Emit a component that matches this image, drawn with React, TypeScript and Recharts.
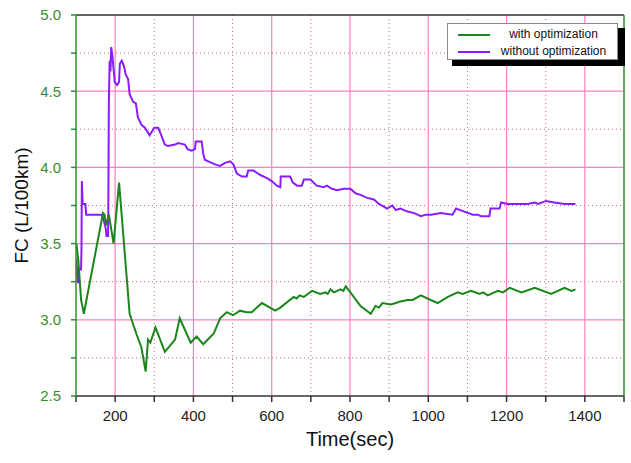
import { LineChart, Line, XAxis, YAxis, ReferenceLine } from "recharts";

// with optimization (green)
const greenTime = [
  101, 106, 113, 120, 169, 173, 177, 184, 196, 210, 237, 254, 267, 278, 284, 290,
  303, 327, 353, 365, 393, 408, 425, 452, 468, 485, 501, 519, 536, 549, 575, 609,
  622, 656, 664, 671, 682, 703, 724, 737, 743, 750, 759, 776, 783, 789, 801, 827,
  853, 865, 874, 883, 904, 917, 929, 947, 960, 981, 1006, 1024, 1050, 1075, 1088,
  1109, 1131, 1140, 1152, 1178, 1191, 1208, 1238, 1272, 1314, 1348, 1366, 1376,
];
const greenFC = [
  3.5, 3.39, 3.13, 3.04, 3.7, 3.69, 3.62, 3.69, 3.5, 3.9, 3.04, 2.91, 2.82, 2.66, 2.87, 2.85,
  2.95, 2.79, 2.87, 3.01, 2.85, 2.89, 2.84, 2.91, 3.01, 3.05, 3.03, 3.06, 3.05, 3.05, 3.11, 3.06,
  3.08, 3.15, 3.14, 3.16, 3.15, 3.19, 3.17, 3.18, 3.17, 3.2, 3.18, 3.2, 3.19, 3.22, 3.18, 3.09,
  3.04, 3.09, 3.08, 3.11, 3.1, 3.11, 3.12, 3.13, 3.13, 3.16, 3.13, 3.11, 3.15, 3.18, 3.17,
  3.19, 3.17, 3.18, 3.16, 3.19, 3.18, 3.21, 3.18, 3.21, 3.17, 3.21, 3.19, 3.2,
];

// without optimization (purple)
const purpleTime = [
  101, 103, 105, 107, 113, 114, 115, 117, 124, 126, 165, 168, 172, 176, 178, 182,
  182.5, 184, 186, 188, 190, 193, 199, 205, 210, 212, 217, 223, 227, 233, 237, 246,
  253, 258, 267, 276, 288, 300, 310, 318, 327, 335, 353, 361, 378, 385, 395, 404,
  406, 421, 425, 429, 438, 455, 468, 481, 494, 502, 511, 524, 536, 540, 553, 571,
  588, 600, 613, 622, 623, 647, 654, 665, 677, 682, 699, 715, 733, 741, 754, 767,
  784, 801, 814, 827, 844, 861, 874, 895, 908, 917, 929, 947, 964, 981, 994, 1006,
  1032, 1062, 1071, 1092, 1114, 1126, 1135, 1156, 1159, 1182, 1186, 1203, 1254, 1272,
  1280, 1301, 1322, 1348, 1376,
];
const purpleFC = [
  3.4, 3.3, 3.24, 3.33, 3.33, 3.47, 3.91, 3.76, 3.76, 3.69, 3.69, 3.68, 3.64, 3.6, 3.55, 3.55,
  3.72, 4.44, 4.7, 4.63, 4.79, 4.73, 4.56, 4.54, 4.56, 4.68, 4.7, 4.66, 4.61, 4.58, 4.48, 4.43,
  4.42, 4.33, 4.28, 4.26, 4.21, 4.26, 4.26, 4.21, 4.15, 4.14, 4.15, 4.16, 4.15, 4.12, 4.11, 4.12,
  4.17, 4.17, 4.09, 4.05, 4.04, 4.02, 4.01, 4.03, 4.04, 4.02, 3.96, 3.94, 3.94, 3.98, 3.98, 3.95,
  3.93, 3.91, 3.88, 3.87, 3.94, 3.94, 3.9, 3.88, 3.88, 3.92, 3.92, 3.88, 3.87, 3.88, 3.86, 3.85,
  3.86, 3.86, 3.83, 3.82, 3.8, 3.79, 3.76, 3.73, 3.75, 3.72, 3.73, 3.71, 3.7, 3.68, 3.69, 3.69,
  3.7, 3.69, 3.73, 3.71, 3.69, 3.69, 3.68, 3.68, 3.73, 3.73, 3.77, 3.76, 3.76, 3.77,
  3.76, 3.78, 3.77, 3.76, 3.76,
];

const xTicks = [100, 200, 300, 400, 500, 600, 700, 800, 900, 1000, 1100, 1200, 1300, 1400, 1500];
const yTicks = [2.5, 2.75, 3, 3.25, 3.5, 3.75, 4, 4.25, 4.5, 4.75, 5];
const majorX = [200, 400, 600, 800, 1000, 1200, 1400];
const minorX = [300, 500, 700, 900, 1100, 1300];
const majorY = [3, 3.5, 4, 4.5];
const minorY = [2.75, 3.25, 3.75, 4.25, 4.75];

const withOpt = greenTime.map((t, i) => ({ t, fc: greenFC[i] }));
const withoutOpt = purpleTime.map((t, i) => ({ t, fc: purpleFC[i] }));

const GREEN = "#1b861b";
const PURPLE = "#8a1cff";
const PINK = "#ff7fbf";
const DOT = "#b87070";
const AXIS_GREEN = "#2f8f2f";
const FRAME = "#333";
const FONT = "'Liberation Sans', Arial, sans-serif";

const fmtX = (v: number) => (v % 200 === 0 && v > 100 && v < 1500 ? String(v) : "");
const fmtY = (v: number) => (Math.round(v * 100) % 50 === 0 ? v.toFixed(1) : "");
const blank = () => "";

export default function App() {
  return (
    <div style={{ position: "absolute", left: 0, top: 0, width: 631, height: 463, background: "#fff", fontFamily: FONT }}>
      <LineChart width={631} height={463} data={withOpt} margin={{ top: 0, right: 0, bottom: 0, left: 0 }}>
        <XAxis
          xAxisId="b" type="number" dataKey="t" domain={[100, 1500]} ticks={xTicks}
          tickFormatter={fmtX} allowDataOverflow height={67}
          stroke={FRAME} strokeWidth={1.5} tickSize={6} tickMargin={8}
          tick={{ fill: "#222", fontSize: 15, fontFamily: FONT }}
          label={{ value: "Time(sec)", position: "insideBottom", offset: 17, style: { fill: "#111", fontSize: 20, fontFamily: FONT } }}
        />
        <XAxis
          xAxisId="t" orientation="top" type="number" domain={[100, 1500]} ticks={xTicks}
          allowDataOverflow height={15} tickFormatter={blank} stroke={FRAME} strokeWidth={1.5} tickSize={5}
        />
        <YAxis
          yAxisId="l" type="number" domain={[2.5, 5]} ticks={yTicks} tickFormatter={fmtY}
          width={76} stroke={AXIS_GREEN} strokeWidth={1.5} tickSize={5} tickMargin={10}
          tick={{ fill: AXIS_GREEN, fontSize: 15, fontFamily: FONT }}
          label={{ value: "FC (L/100km)", angle: -90, position: "insideLeft", offset: 21, style: { textAnchor: "middle", fill: "#111", fontSize: 19, fontFamily: FONT } }}
        />
        <YAxis
          yAxisId="r" orientation="right" type="number" domain={[2.5, 5]} ticks={yTicks}
          width={7} tick={false} stroke={AXIS_GREEN} strokeWidth={1.5} tickSize={5}
        />
        {minorX.map((v) => (
          <ReferenceLine key={"mx" + v} x={v} xAxisId="b" yAxisId="l" stroke={DOT} strokeDasharray="1 3" />
        ))}
        {minorY.map((v) => (
          <ReferenceLine key={"my" + v} y={v} xAxisId="b" yAxisId="l" stroke={DOT} strokeDasharray="1 3" />
        ))}
        {majorX.map((v) => (
          <ReferenceLine key={"MX" + v} x={v} xAxisId="b" yAxisId="l" stroke={PINK} strokeWidth={1.2} />
        ))}
        {majorY.map((v) => (
          <ReferenceLine key={"MY" + v} y={v} xAxisId="b" yAxisId="l" stroke={PINK} strokeWidth={1.2} />
        ))}
        <Line data={withoutOpt} xAxisId="b" yAxisId="l" dataKey="fc" type="linear" stroke={PURPLE} strokeWidth={2} dot={false} isAnimationActive={false} />
        <Line data={withOpt} xAxisId="b" yAxisId="l" dataKey="fc" type="linear" stroke={GREEN} strokeWidth={2} dot={false} isAnimationActive={false} />
      </LineChart>
      <div style={{ position: "absolute", left: 452, top: 28, width: 173, height: 38, background: "#000" }} />
      <div
        style={{
          position: "absolute", left: 447, top: 23, width: 171, height: 37, background: "#fff",
          border: "1px solid #8a8a8a", fontSize: 12, color: "#111", lineHeight: "17px", paddingTop: 2,
          boxSizing: "border-box",
        }}
      >
        {[{ c: GREEN, n: "with optimization" }, { c: PURPLE, n: "without optimization" }].map((s) => (
          <div key={s.n} style={{ display: "flex", alignItems: "center" }}>
            <span style={{ display: "inline-block", width: 32, height: 2, background: s.c, marginLeft: 10 }} />
            <span style={{ flex: 1, textAlign: "center" }}>{s.n}</span>
          </div>
        ))}
      </div>
    </div>
  );
}
